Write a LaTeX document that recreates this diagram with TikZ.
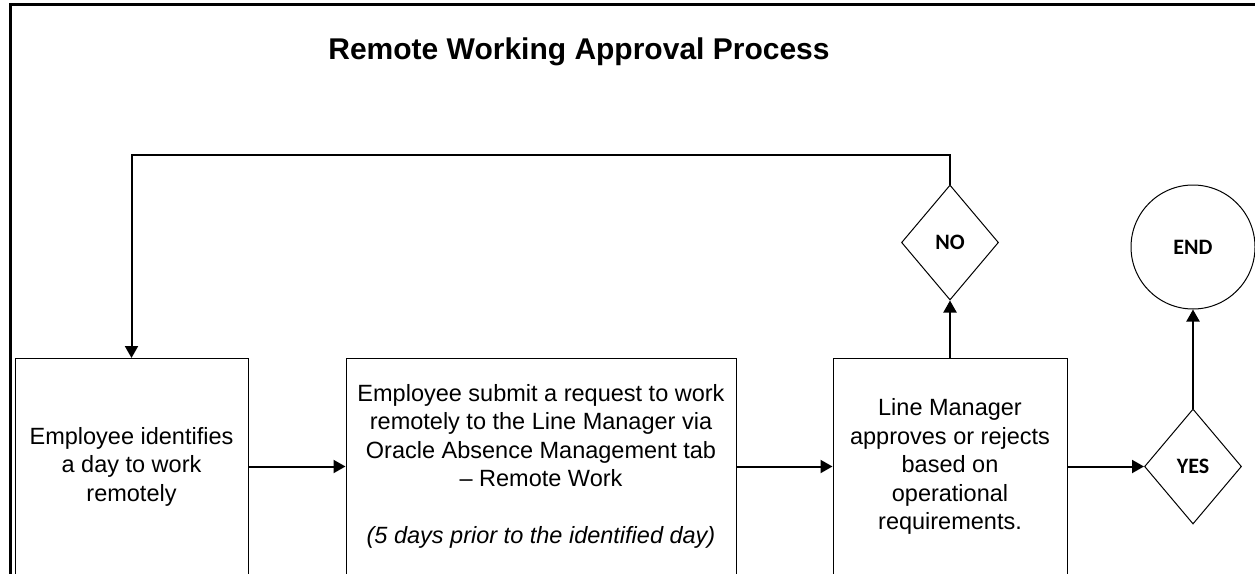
\documentclass[tikz,border=0pt]{standalone}
\usepackage{fontspec}
\setmainfont{Liberation Sans}
\newfontfamily\calibri{Carlito}
\usetikzlibrary{arrows.meta,shapes.geometric}

\begin{document}
\begin{tikzpicture}[x=1pt, y=-1pt, >={Triangle[length=12pt,width=13pt]},
  box/.style={draw, line width=1pt, minimum height=216pt, inner sep=0pt, align=center, font=\fontsize{23.5}{28.5}\selectfont},
  choice/.style={draw, diamond, line width=1pt, minimum width=97pt, minimum height=115pt, inner sep=0pt, font=\calibri\bfseries\fontsize{22}{26}\selectfont},
  flow/.style={->, line width=2pt}]
\useasboundingbox (0,0) rectangle (1255,573);
\draw[line width=3pt] (10,580) -- (10,4) -- (1262,4);
\node (title) at (579,52) {\fontsize{30}{36}\selectfont\bfseries Remote Working Approval Process};
\node[box, minimum width=233pt] (identify) at (131.5,466.5) {Employee identifies\\a day to work\\remotely};
\node[box, minimum width=390pt] (submit) at (541,466.5) {Employee submit a request to work\\remotely to the Line Manager via\\Oracle Absence Management tab\\– Remote Work\\[28.5pt]\textit{(5 days prior to the identified day)}};
\node[box, minimum width=234pt] (review) at (950,466.5) {Line Manager\\approves or rejects\\based on\\operational\\requirements.};
\node[choice] (no) at (950,242.5) {NO};
\node[choice] (yes) at (1193,466.5) {YES};
\node[draw, circle, line width=1pt, minimum size=124pt, inner sep=0pt, font=\calibri\bfseries\fontsize{22}{26}\selectfont] (end) at (1193,247) {END};
\draw[flow] (identify) -- (submit);
\draw[flow] (submit) -- (review);
\draw[flow] (review) -- (yes);
\draw[flow] (review) -- (no);
\draw[flow] (yes) -- (end);
\draw[flow] (no.north) -- ++(0,-30) -| (identify.north);
\end{tikzpicture}
\end{document}
